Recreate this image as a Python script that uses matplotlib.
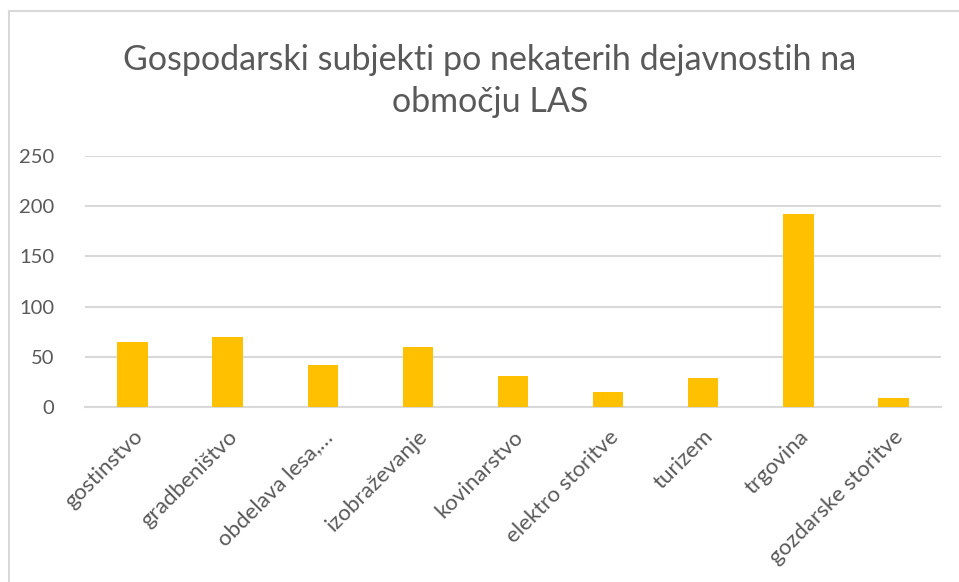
import matplotlib
matplotlib.use('agg')
import matplotlib.pyplot as plt
from matplotlib.lines import Line2D

# data
categories = ["gostinstvo", "gradbeništvo", "obdelava lesa,…", "izobraževanje",
              "kovinarstvo", "elektro storitve", "turizem", "trgovina",
              "gozdarske storitve"]
values = [65, 70, 42, 60, 31, 15, 29, 192, 9]
y_ticks = [0, 50, 100, 150, 200, 250]
title = "Gospodarski subjekti po nekaterih dejavnostih na\nobmočju LAS"

text_color = "#595959"
grid_color = "#d9d9d9"
bar_color = "#ffc000"

plt.rcParams['font.family'] = ['Lato', 'DejaVu Sans']

fig = plt.figure(figsize=(9.59, 5.82), dpi=100)
axis = fig.add_axes([0.0886, 0.3007, 0.8926, 0.4313])

x = range(len(categories))
axis.bar(x, values, width=0.32, color=bar_color, zorder=3)

axis.set_xlim(-0.5, len(categories) - 0.5)
axis.set_ylim(0, 250)
axis.set_yticks(y_ticks)
axis.set_xticks(list(x))
axis.set_xticklabels(categories, rotation=45, ha='right', rotation_mode='anchor')
axis.yaxis.grid(True, color=grid_color, linewidth=1.5, zorder=0)
axis.tick_params(axis='y', length=0, labelsize=14.5, labelcolor=text_color, pad=22)
axis.tick_params(axis='x', length=0, labelsize=16, labelcolor=text_color, pad=14)
for side in ['top', 'right', 'left']:
    axis.spines[side].set_visible(False)
axis.spines['bottom'].set_color(grid_color)
axis.spines['bottom'].set_linewidth(1.5)

fig.text(0.511, 0.861, title, ha='center', va='center', fontsize=24.5,
         color=text_color, linespacing=1.4)

# chart frame (top and left edges visible in the crop)
fig.add_artist(Line2D([8.5 / 959, 1], [1 - 10.5 / 582, 1 - 10.5 / 582],
                      transform=fig.transFigure, color=grid_color, linewidth=1.5))
fig.add_artist(Line2D([8.5 / 959, 8.5 / 959], [0, 1 - 10.5 / 582],
                      transform=fig.transFigure, color=grid_color, linewidth=1.5))

plt.savefig("out.png", dpi=100)
